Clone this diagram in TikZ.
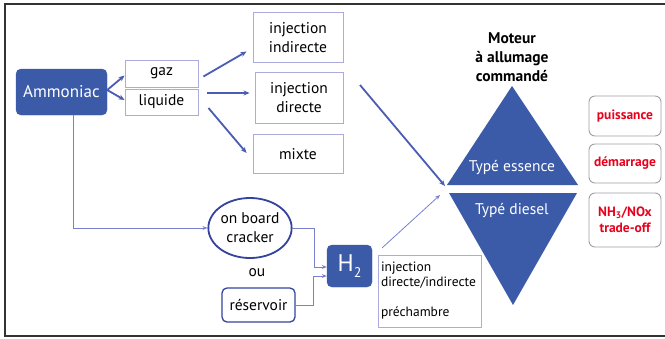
\documentclass[tikz,border=0pt]{standalone}
\usepackage{fontspec}
\setmainfont{PT Sans}
\usetikzlibrary{arrows.meta,calc,shapes.geometric}
\definecolor{bfill}{HTML}{3B5BA9}
\definecolor{barrow}{HTML}{4A5CB3}
\definecolor{lborder}{HTML}{ABABE0}
\definecolor{tline}{HTML}{7A80CF}
\definecolor{dborder}{HTML}{34449E}
\definecolor{rtext}{HTML}{E8001C}
\definecolor{gborder}{HTML}{A0A0A8}
\tikzset{
  fillbox/.style={fill=bfill,draw=bfill,rounded corners=5pt,text=white,inner sep=0pt},
  lightbox/.style={draw=lborder,line width=0.9pt,inner sep=0pt,align=center,font=\fontsize{15.5}{19}\selectfont},
  redbox/.style={draw=gborder,line width=0.9pt,rounded corners=6pt,inner sep=0pt,align=center,text=rtext,font=\bfseries\fontsize{13.5}{16}\selectfont},
  arr/.style={draw=barrow,line width=1.8pt,-{Stealth[length=6pt,width=5pt]}},
  tarr/.style={draw=tline,line width=0.8pt,-{Stealth[length=5pt,width=4pt]}},
  tline/.style={draw=tline,line width=0.8pt}
}
\begin{document}
\begin{tikzpicture}[x=1pt,y=-1pt]
\useasboundingbox (0,0) rectangle (665,338);
\fill[white] (0,0) rectangle (665,338);
% frame
\draw[line width=1.4pt,draw=black!80] (665,4) -- (5,4) -- (5,336) -- (665,336);

% nodes
\node[fillbox,minimum width=91pt,minimum height=46pt,font=\fontsize{17}{20}\selectfont] (amm) at (61.5,92) {Ammoniac};
\node[lightbox,minimum width=73pt,minimum height=27pt] (gaz) at (161.5,73.5) {gaz};
\node[lightbox,minimum width=73pt,minimum height=26pt] (liq) at (161.5,102) {liquide};
\node[lightbox,minimum width=90pt,minimum height=50pt] (ii) at (298,37.5) {injection\\indirecte};
\node[lightbox,minimum width=88pt,minimum height=51pt] (id) at (299,97.5) {injection\\directe};
\node[lightbox,minimum width=90pt,minimum height=39pt] (mix) at (298,154) {mixte};

\node[align=center,font=\bfseries\fontsize{15.5}{19}\selectfont] (title) at (512,57) {Moteur\\à allumage\\commandé};

% triangles
\coordinate (eL) at (447,185);
\coordinate (eR) at (578,185);
\coordinate (eT) at (512,86);
\coordinate (dL) at (449,193);
\coordinate (dR) at (577,193);
\coordinate (dB) at (513,305);
\fill[bfill] (eL) -- (eT) -- (eR) -- cycle;
\fill[bfill] (dL) -- (dR) -- (dB) -- cycle;
\node[text=white,font=\fontsize{15.5}{18}\selectfont] (ess) at (512,168) {Typé essence};
\node[text=white,font=\fontsize{15.5}{18}\selectfont] (dies) at (512,211) {Typé diesel};

% right boxes
\node[redbox,minimum width=72pt,minimum height=40pt] (pui) at (625,116) {puissance};
\node[redbox,minimum width=72pt,minimum height=39pt] (dem) at (625,163.5) {démarrage};
\node[redbox,minimum width=72pt,minimum height=54pt] (nh) at (625,220) {NH\textsubscript{3}/NOx\\trade-off};

% hydrogen part
\node[ellipse,draw=dborder,line width=1.8pt,minimum width=74pt,minimum height=60pt,inner sep=0pt,align=center,font=\fontsize{15.5}{19}\selectfont] (crk) at (250,228) {on board\\cracker};
\node[font=\fontsize{15.5}{18}\selectfont] (ou) at (257,273) {ou};
\node[draw=dborder,line width=1.3pt,rounded corners=5pt,minimum width=73pt,minimum height=34pt,inner sep=0pt,font=\fontsize{15.5}{18}\selectfont] (res) at (258.5,305) {réservoir};
\node[fillbox,minimum width=45pt,minimum height=42pt,font=\fontsize{24}{26}\selectfont] (h2) at (349.5,266) {H\raisebox{-0.45ex}{\fontsize{14}{15}\selectfont 2}};
\node[draw=lborder,line width=0.9pt,minimum width=103pt,minimum height=72pt,inner sep=3pt,text width=97pt,align=left,font=\fontsize{13.5}{15}\selectfont] (inj) at (429.5,291) {injection\\directe/indirecte\\[15pt]préchambre};

% connectors
\draw[arr] ([yshift=2pt]amm.east) -- ($(gaz.west)+(0,2)$);
\draw[arr] ([yshift=2pt]amm.east) -- ($(liq.west)+(0,-2)$);
\draw[arr] ($(gaz.east)+(5,3)$) -- ($(ii.west)+(-6,14)$);
\draw[arr] ($(liq.east)+(9,-9)$) -- ($(id.west)+(-5,-4.5)$);
\draw[arr] ($(liq.east)+(10,6)$) -- ($(mix.west)+(-6,-1)$);
\coordinate (st) at (360,85);
\draw[arr] (st) -- ($(eL)+(-2,1)$);

\draw[tarr] ($(amm.south)+(11.5,0)$) |- (crk.west);
\draw[tarr] (crk.east) -- ++(22,0) |- ($(h2.west)+(0,1)$);
\draw[tarr] (res.east) -- ++(18,0) |- ($(h2.west)+(0,10)$);
\draw[tarr] ($(h2.north east)+(10,3)$) -- ($(dL)+(-9,2)$);
\end{tikzpicture}
\end{document}
